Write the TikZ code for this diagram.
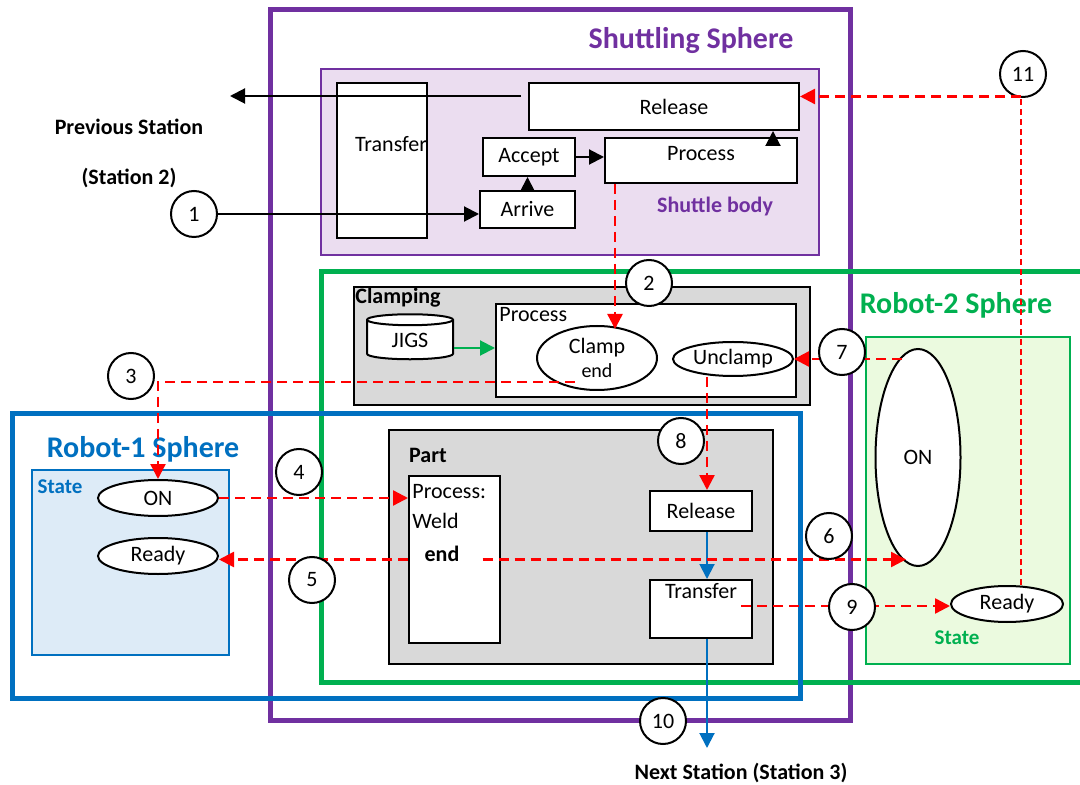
\documentclass[tikz,border=0pt]{standalone}
\usepackage{fontspec}
\setmainfont{Carlito}
\usetikzlibrary{positioning,calc,arrows.meta,shapes.geometric}

\definecolor{shuttlepurple}{HTML}{7030A0}
\definecolor{robotblue}{HTML}{0070C0}
\definecolor{robotgreen}{HTML}{00B050}
\definecolor{signalred}{HTML}{FF0000}
\definecolor{bodyfill}{HTML}{EBDDF0}
\definecolor{partgray}{HTML}{D9D9D9}
\definecolor{stateblue}{HTML}{DDEBF7}
\definecolor{stategreen}{HTML}{EBFADF}

\begin{document}
\begin{tikzpicture}[x=0.5pt, y=-0.5pt, font=\fontsize{11}{13}\selectfont,
    >={Triangle[length=7.5pt,width=7.5pt]},
    box/.style={draw=black, line width=1pt, fill=white, inner sep=0pt},
    oval/.style={ellipse, draw=black, line width=1pt, fill=white, inner sep=0pt},
    num/.style={circle, draw=black, line width=1pt, fill=white, minimum size=23pt, inner sep=0pt},
    flow/.style={->, black, line width=1pt},
    partflow/.style={->, robotblue, line width=1pt},
    signal/.style={->, signalred, line width=1.2pt, dash pattern=on 5pt off 3pt},
    sphere/.style={line width=2.5pt},
    title/.style={font=\fontsize{15}{18}\selectfont\bfseries},
    tag/.style={font=\fontsize{11}{13}\selectfont\bfseries}]
    \useasboundingbox (0,0) rectangle (1080,785);

    % spheres
    \draw[sphere, shuttlepurple] (270,10) rectangle (850,720);
    \draw[sphere, robotgreen] (1090,272) -- (321,272) -- (321,682) -- (1090,682);
    \draw[sphere, robotblue] (12,414) rectangle (800,698);
    \node[title, shuttlepurple] (ShuttleTitle) at (691,41) {Shuttling Sphere};
    \node[title, robotgreen] (Robot2Title) at (956,305) {Robot-2 Sphere};
    \node[title, robotblue] (Robot1Title) at (143,449) {Robot-1 Sphere};

    % shuttle body
    \filldraw[fill=bodyfill, draw=shuttlepurple, line width=1pt] (321,69) rectangle (819,255);
    \node[tag, shuttlepurple] (BodyText) at (715,207) {Shuttle body};
    \node[box, minimum width=45pt, minimum height=77.5pt] (TransferTop) at (382,160.5) {};
    \node (TransferTopText) at (391,144) {Transfer};
    \node[box, minimum width=135pt, minimum height=23.5pt] (ReleaseTop) at (664,106.5) {\hspace{10pt}Release};
    \node[box, minimum width=46pt, minimum height=19pt] (Accept) at (529,157) {Accept};
    \node[box, minimum width=47.5pt, minimum height=18.5pt] (Arrive) at (527.5,209.5) {Arrive};
    \node[box, minimum width=96pt, minimum height=22.5pt,
        label={[anchor=north, yshift=-1pt]north:Process}] (ProcessTop) at (701,160.5) {};

    % clamping
    \node[box, fill=partgray, minimum width=228pt, minimum height=59pt] (Clamping) at (582,346) {};
    \node[tag, anchor=north west, inner sep=1pt] (ClampingText) at (Clamping.north west) {Clamping};
    \node[box, minimum width=150pt, minimum height=46.5pt,
        label={[anchor=north west, inner sep=2pt]north west:Process}] (ClampProcess) at (646,350.5) {};
    \node[cylinder, shape border rotate=90, aspect=0.3, draw=black, line width=1pt, fill=white,
        minimum width=43pt, minimum height=22.5pt, inner sep=0pt] (Jigs) at (410,340) {JIGS};
    \node[oval, minimum width=60pt, minimum height=32pt, align=center] (Clamp) at (597,358)
        {Clamp\\[-1pt]{\fontsize{10}{11}\selectfont end}};
    \node[oval, minimum width=60pt, minimum height=17pt] (Unclamp) at (733,359) {Unclamp};

    % part
    \node[box, fill=partgray, minimum width=192pt, minimum height=117pt] (Part) at (581,547) {};
    \node[tag] (PartText) at (428,455) {Part};
    \node[box, minimum width=45.5pt, minimum height=83.5pt] (WeldBox) at (454.5,559.5) {};
    \node[anchor=west, inner sep=1pt] (WeldLine1) at (410,492) {Process:};
    \node[anchor=west, inner sep=1pt] (WeldLine2) at (410,521) {Weld};
    \node[tag] (WeldEnd) at (442,554) {end};
    \node[box, minimum width=51pt, minimum height=20pt] (PartRelease) at (701,511) {Release};
    \node[box, minimum width=51pt, minimum height=29pt,
        label={[anchor=north, inner sep=2pt]north:Transfer}] (PartTransfer) at (701,609) {};

    % robot states
    \filldraw[fill=stateblue, draw=robotblue, line width=0.8pt] (32,470) rectangle (229,655);
    \node[tag, robotblue, font=\fontsize{10.5}{12}\selectfont\bfseries] (State1Text) at (60,487) {State};
    \node[oval, minimum width=60pt, minimum height=18pt] (On1) at (158,498) {ON};
    \node[oval, minimum width=60pt, minimum height=18pt] (Ready1) at (158,556) {Ready};
    \filldraw[fill=stategreen, draw=robotgreen, line width=0.8pt] (866,337) rectangle (1070,664);
    \node[tag, robotgreen, font=\fontsize{10.5}{12}\selectfont\bfseries] (State2Text) at (957,638) {State};
    \node[oval, minimum width=42.5pt, minimum height=108.5pt] (On2) at (918,457.5) {ON};
    \node[oval, minimum width=56pt, minimum height=18pt] (Ready2) at (1007,604) {Ready};

    % stations
    \node[tag] (PrevText1) at (129,127) {Previous Station};
    \node[tag] (PrevText2) at (129,178) {(Station 2)};
    \node[tag] (NextText) at (741,773) {Next Station (Station 3)};
    \coordinate (PrevStation) at (230,96);
    \coordinate (NextStation) at (707,748);

    % numbers
    \node[num] (N1) at (194,214) {1};
    \node[num] (N11) at (1023,74) {11};

    % shuttle flow
    \draw[flow] ($(PrevStation -| ReleaseTop.west)+(-3.5pt,0)$) -- (PrevStation);
    \draw[flow] (N1.east) -- (N1 -| Arrive.west);
    \draw[flow] (Arrive.north) -- (Arrive.north |- Accept.south);
    \draw[flow] (Accept.east) -- (Accept.east -| ProcessTop.west);
    \draw[flow] ($(ProcessTop.north east)+(-12.5pt,0)$) -- ($(ReleaseTop.south east)+(-13.5pt,0)$);
    \draw[->, robotgreen, line width=1pt] (Jigs.east |- 0,348) -- (ClampProcess.west |- 0,348);

    % part flow
    \draw[partflow] ($(PartRelease.south)+(3pt,0)$) -- ($(PartTransfer.north)+(3pt,0)$);
    \draw[partflow] ($(PartTransfer.south)+(3pt,0)$) -- (NextStation);

    % signals
    \coordinate (ProcOut) at ($(ProcessTop.south west)+(5.5pt,0)$);
    \draw[signal] (ProcOut) -- ($(ProcOut |- Clamp.north)+(0,-2pt)$);
    \draw[signal] ($(Clamp.center)+(-11pt,-12pt)$) -| (On1.north);
    \draw[signal] (On1.east) -- (On1.east -| WeldBox.west);
    \draw[signal] (WeldBox.west) -- (WeldBox.west -| Ready1.east);
    \draw[signal] ($(WeldBox.center)+(14pt,0)$) -- ($(WeldBox.center -| On2.center)+(-6pt,0)$);
    \draw[signal] ($(Unclamp.east -| On2.center)+(-8pt,0)$) -- (Unclamp.east);
    \coordinate (UnclampOut) at ($(Unclamp.south)+(-13pt,0)$);
    \draw[signal] (UnclampOut) -- (UnclampOut |- PartRelease.north);
    \draw[signal] ($(PartTransfer.east)+(-6pt,1.5pt)$) -- ($(PartTransfer.east -| Ready2.west)+(0,1.5pt)$);
    \coordinate (ReadyOut) at ($(Ready2.north)+(7pt,0)$);
    \coordinate (ReleaseIn) at ($(ReleaseTop.east)+(0,5pt)$);
    \draw[signalred, line width=0.6pt, dash pattern=on 3pt off 2pt] (ReadyOut) -- (ReadyOut |- ReleaseIn);
    \draw[signal] (ReadyOut |- ReleaseIn) -- (ReleaseIn);

    \node[num] (N2) at (649,283) {2};
    \node[num] (N3) at (131,376) {3};
    \node[num] (N4) at (299,472) {4};
    \node[num] (N5) at (312,580) {5};
    \node[num] (N6) at (829,536) {6};
    \node[num] (N7) at (842,352) {7};
    \node[num] (N8) at (681,441) {8};
    \node[num] (N9) at (852,607) {9};
    \node[num] (N10) at (663,721) {10};
\end{tikzpicture}
\end{document}
